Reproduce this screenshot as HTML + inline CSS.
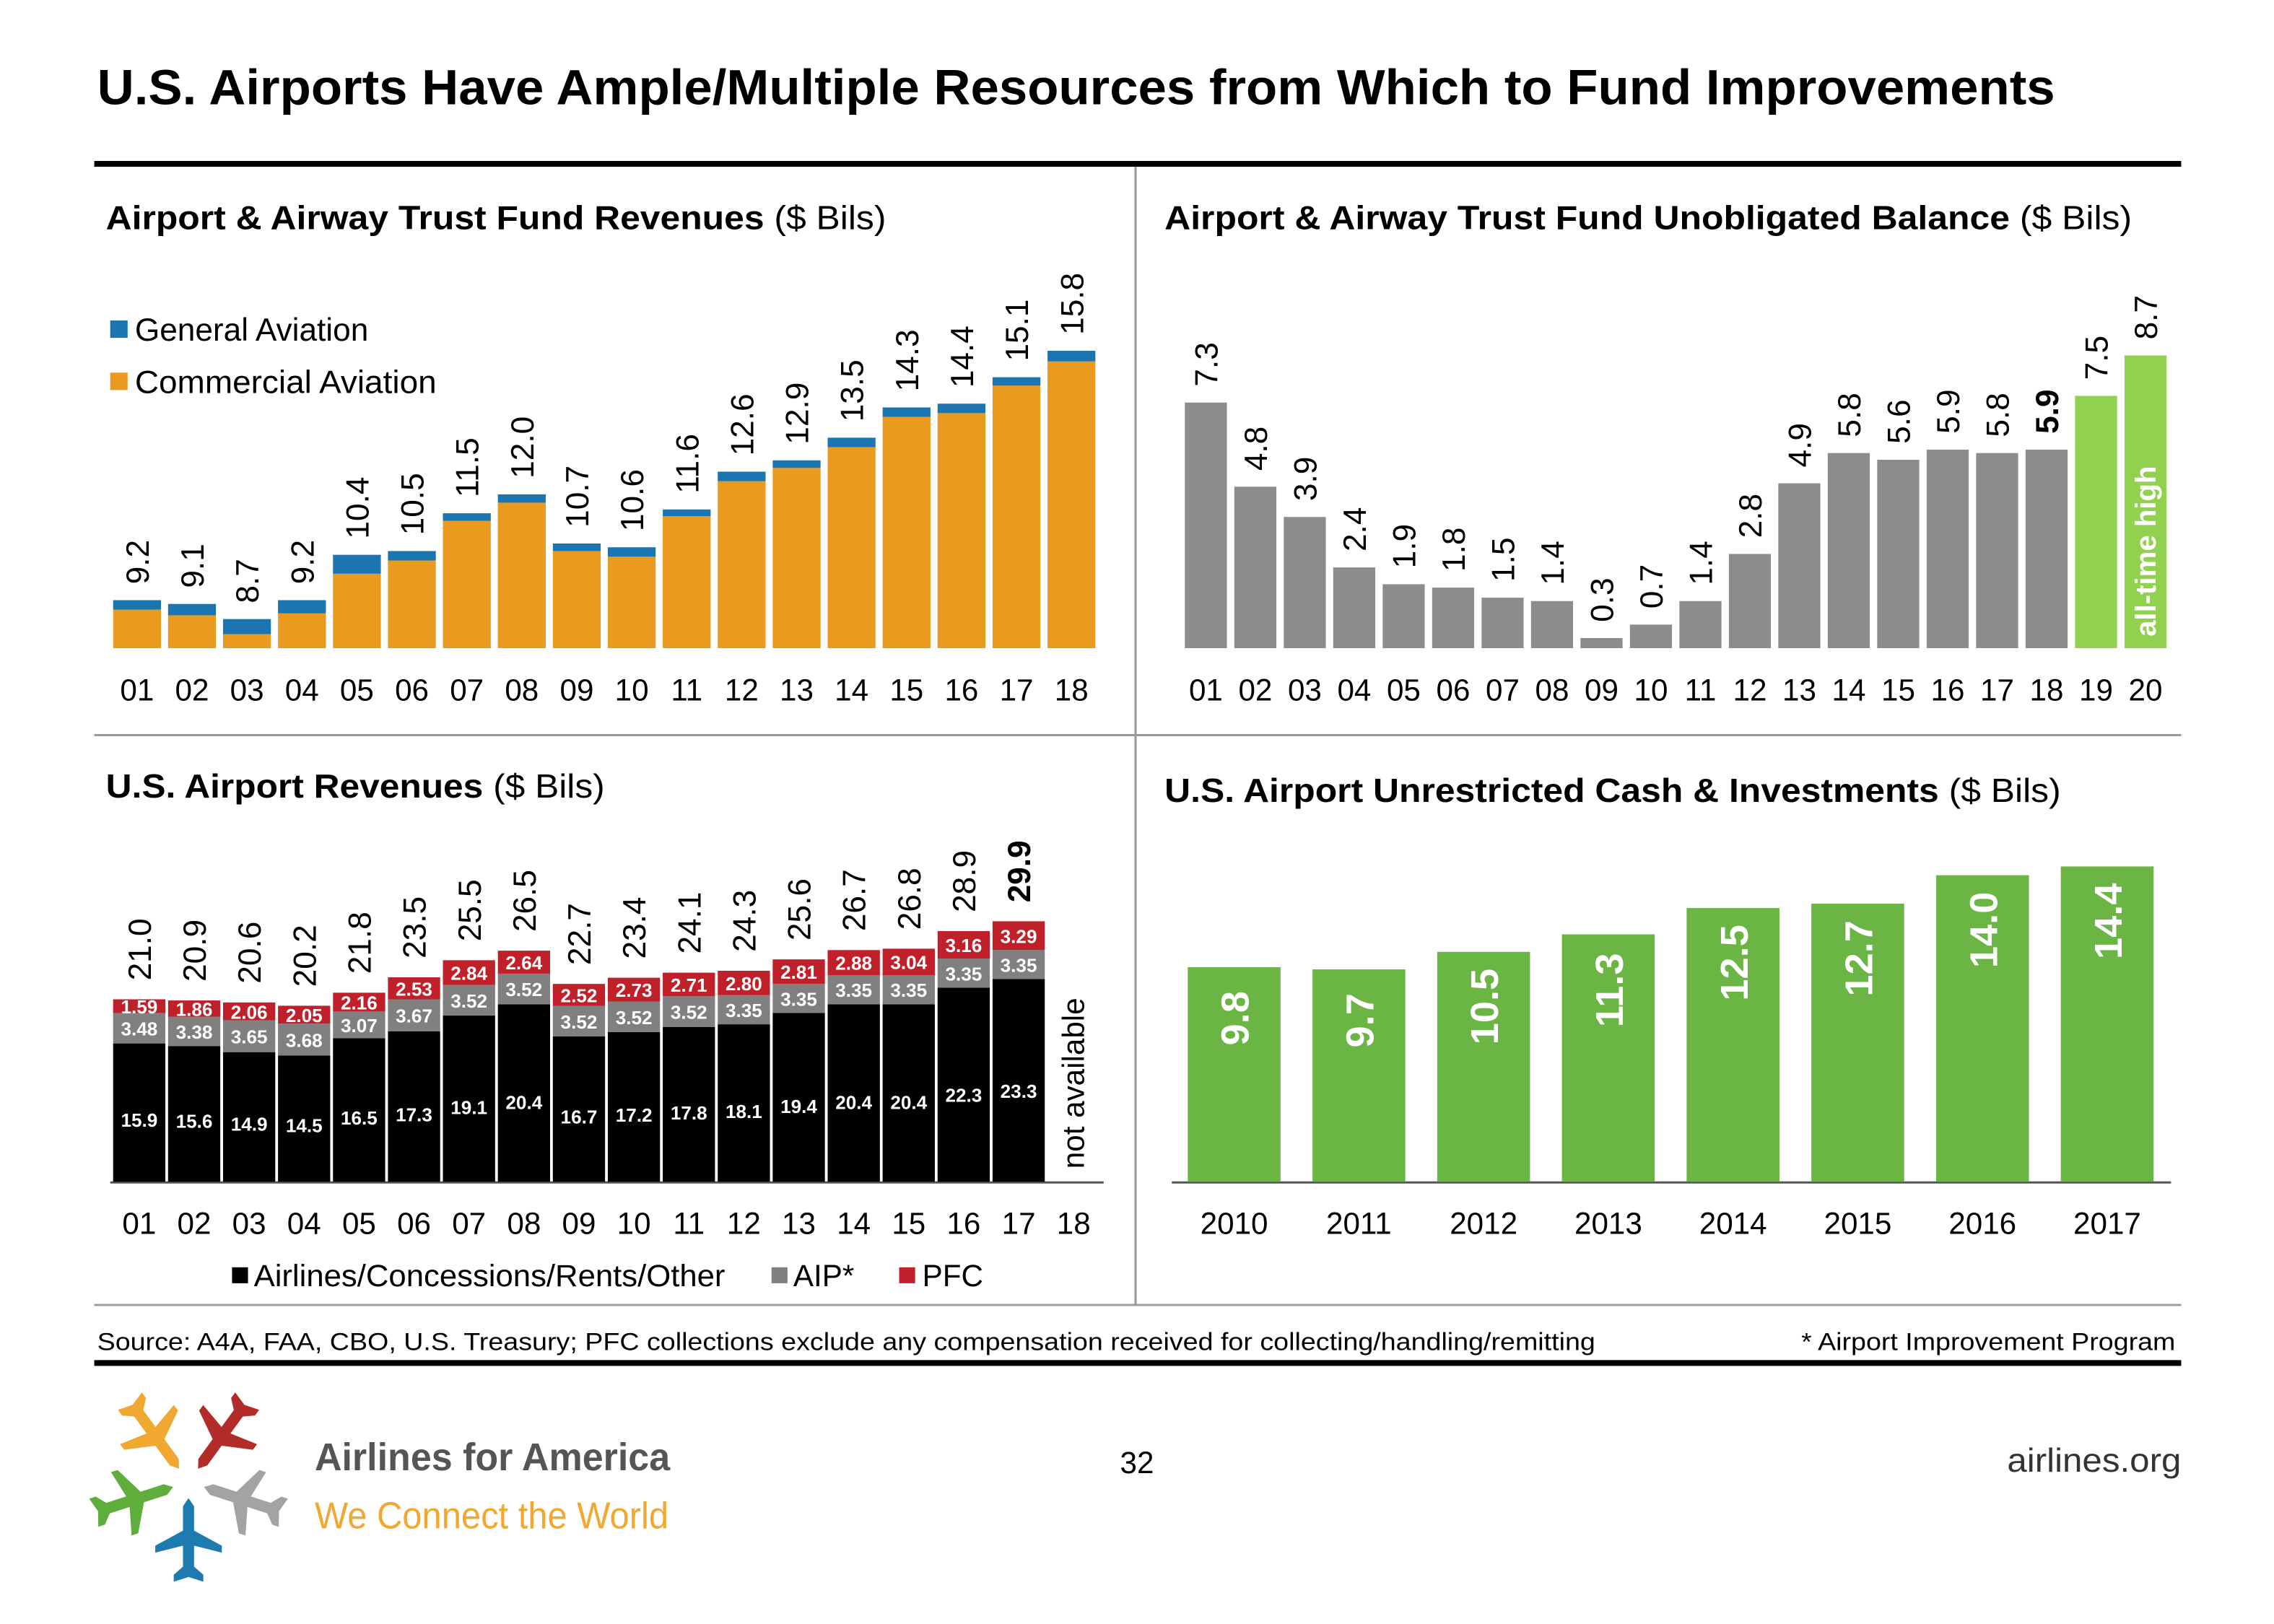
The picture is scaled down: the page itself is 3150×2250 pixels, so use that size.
<!DOCTYPE html>
<html><head><meta charset="utf-8"><style>
html,body{margin:0;padding:0;background:#fff;}
svg{display:block;font-family:"Liberation Sans",Arial,sans-serif;}
</style></head><body>
<svg id="main" xmlns="http://www.w3.org/2000/svg" width="3150" height="2250" viewBox="0 0 1568 1120" preserveAspectRatio="none">
<rect x="0" y="0" width="1568" height="1120" fill="#fff"/>
<text x="67" y="72" font-size="34" font-weight="bold" textLength="1350" lengthAdjust="spacingAndGlyphs">U.S. Airports Have Ample/Multiple Resources from Which to Fund Improvements</text>
<rect x="65" y="111" width="1439" height="4" fill="#000"/>
<line x1="783" y1="115" x2="783" y2="900" stroke="#999" stroke-width="1.5"/>
<line x1="65" y1="507" x2="1504" y2="507" stroke="#999" stroke-width="1.5"/>
<line x1="65" y1="900" x2="1504" y2="900" stroke="#999" stroke-width="1.5"/>
<rect x="65" y="938" width="1439" height="4" fill="#000"/>

<text x="73" y="158" font-size="23" textLength="538" lengthAdjust="spacingAndGlyphs"><tspan font-weight="bold">Airport &amp; Airway Trust Fund Revenues</tspan> ($ Bils)</text>
<text x="803" y="158" font-size="23" textLength="667" lengthAdjust="spacingAndGlyphs"><tspan font-weight="bold">Airport &amp; Airway Trust Fund Unobligated Balance</tspan> ($ Bils)</text>
<text x="73" y="550" font-size="23" textLength="344" lengthAdjust="spacingAndGlyphs"><tspan font-weight="bold">U.S. Airport Revenues</tspan> ($ Bils)</text>
<text x="803" y="553" font-size="23" textLength="618" lengthAdjust="spacingAndGlyphs"><tspan font-weight="bold">U.S. Airport Unrestricted Cash &amp; Investments</tspan> ($ Bils)</text>

<rect x="76" y="221" width="12" height="12" fill="#1A75B0"/>
<text x="93" y="235" font-size="22">General Aviation</text>
<rect x="76" y="257" width="12" height="12" fill="#EA9A1E"/>
<text x="93" y="271" font-size="22" textLength="208" lengthAdjust="spacingAndGlyphs">Commercial Aviation</text>

<rect x="160" y="874" width="11" height="11" fill="#000"/>
<text x="175" y="887" font-size="21" textLength="325" lengthAdjust="spacingAndGlyphs">Airlines/Concessions/Rents/Other</text>
<rect x="532" y="874" width="11" height="11" fill="#808080"/>
<text x="547" y="887" font-size="21">AIP*</text>
<rect x="620" y="874" width="11" height="11" fill="#C0202A"/>
<text x="636" y="887" font-size="21">PFC</text>

<text x="67" y="931" font-size="17" textLength="1033" lengthAdjust="spacingAndGlyphs">Source: A4A, FAA, CBO, U.S. Treasury; PFC collections exclude any compensation received for collecting/handling/remitting</text>
<text x="1500" y="931" font-size="17" text-anchor="end" textLength="258" lengthAdjust="spacingAndGlyphs">* Airport Improvement Program</text>

<g id="logo"></g>
<text x="217" y="1014" font-size="27" font-weight="bold" fill="#555" textLength="245" lengthAdjust="spacingAndGlyphs">Airlines for America</text>
<text x="217" y="1054" font-size="26" fill="#F0A830" textLength="244" lengthAdjust="spacingAndGlyphs">We Connect the World</text>
<text x="784" y="1016" font-size="21" text-anchor="middle">32</text>
<text x="1504" y="1015" font-size="23" text-anchor="end" fill="#333" textLength="120" lengthAdjust="spacingAndGlyphs">airlines.org</text>

<g id="c1"></g><g id="c2"></g><g id="c3"></g><g id="c4"></g>
</svg>
<script>
// Chart 1 data
const c1Years = ["01","02","03","04","05","06","07","08","09","10","11","12","13","14","15","16","17","18"];
const c1Totals = [9.2,9.1,8.7,9.2,10.4,10.5,11.5,12.0,10.7,10.6,11.6,12.6,12.9,13.5,14.3,14.4,15.1,15.8];
const c1GA = [0.25,0.3,0.4,0.35,0.5,0.25,0.2,0.22,0.2,0.25,0.18,0.25,0.2,0.25,0.25,0.25,0.22,0.28];
// Chart 2 data
const c2Years = ["01","02","03","04","05","06","07","08","09","10","11","12","13","14","15","16","17","18","19","20"];
const c2Values = [7.3,4.8,3.9,2.4,1.9,1.8,1.5,1.4,0.3,0.7,1.4,2.8,4.9,5.8,5.6,5.9,5.8,5.9,7.5,8.7];
// Chart 3 data
const c3Years = ["01","02","03","04","05","06","07","08","09","10","11","12","13","14","15","16","17","18"];
const c3Airlines = [15.9,15.6,14.9,14.5,16.5,17.3,19.1,20.4,16.7,17.2,17.8,18.1,19.4,20.4,20.4,22.3,23.3];
const c3AIP = [3.48,3.38,3.65,3.68,3.07,3.67,3.52,3.52,3.52,3.52,3.52,3.35,3.35,3.35,3.35,3.35,3.35];
const c3PFC = [1.59,1.86,2.06,2.05,2.16,2.53,2.84,2.64,2.52,2.73,2.71,2.80,2.81,2.88,3.04,3.16,3.29];
const c3Totals = ["21.0","20.9","20.6","20.2","21.8","23.5","25.5","26.5","22.7","23.4","24.1","24.3","25.6","26.7","26.8","28.9","29.9"];
// Chart 4 data
const c4Years = ["2010","2011","2012","2013","2014","2015","2016","2017"];
const c4Values = [9.8,9.7,10.5,11.3,12.5,12.7,14.0,14.4];

const NS="http://www.w3.org/2000/svg";
function mk(parent,tag,attrs,txt){const e=document.createElementNS(NS,tag);for(const k in attrs)e.setAttribute(k,attrs[k]);if(txt!==undefined)e.textContent=txt;parent.appendChild(e);return e;}
function vtext(p,x,y,s,size,bold,fill){return mk(p,"text",{x:0,y:0,transform:`translate(${x},${y}) rotate(-90)`,"font-size":size,"font-weight":bold?"bold":"normal",fill:fill||"#000"},s);}

// Chart 1
(function(){
  const g=document.getElementById("c1");
  const base=447, x0=78, pitch=37.9, bw=33;
  const y=v=>base-(v-7.93)*26.06;
  const xs=i=>x0+i*pitch;
  c1Totals.forEach((t,i)=>{
    const top=y(t), gaBottom=y(t-c1GA[i]);
    let r=mk(g,"rect",{x:xs(i),y:gaBottom,width:bw,height:base-gaBottom,fill:"#EA9A1E"});
    
    
    r=mk(g,"rect",{x:xs(i),y:top,width:bw,height:gaBottom-top,fill:"#1A75B0"});
    
    
    let t1=vtext(g,xs(i)+bw/2+8,top-11,t.toFixed(1),22,false);
    
    
    let xl=mk(g,"text",{x:xs(i)+bw/2,y:483,"font-size":21,"text-anchor":"middle"},c1Years[i]);
    
    
  });
})();

// Chart 2
(function(){
  const g=document.getElementById("c2");
  const base=447, x0=817, pitch=34.1, bw=29;
  const y=v=>base-v*23.2;
  c2Values.forEach((v,i)=>{
    const x=x0+i*pitch, top=y(v);
    let r=mk(g,"rect",{x:x,y:top,width:bw,height:base-top,fill:i>=18?"#92D050":"#8C8C8E"});
    
    
    let t=vtext(g,x+bw/2+8,top-11,v.toFixed(1),22,i===17);
    
    
    let xl=mk(g,"text",{x:x+bw/2,y:483,"font-size":21,"text-anchor":"middle"},c2Years[i]);
    
    
    if(i===19){
      let a=vtext(g,x+bw/2+7,439,"all-time high",20,true,"#fff");
      
      
    }
  });
})();

// Chart 3
(function(){
  const g=document.getElementById("c3");
  const base=815, x0=78, pitch=37.9, bw=36, k=6.0;
  let ax=mk(g,"line",{x1:76,y1:base+0.5,x2:761,y2:base+0.5,stroke:"#555","stroke-width":1.5});
  
  
  c3Airlines.forEach((a,i)=>{
    const x=x0+i*pitch, cx=x+bw/2;
    const yA=base-a*k, yG=yA-c3AIP[i]*k, yP=yG-c3PFC[i]*k;
    let r=mk(g,"rect",{x:x,y:yA,width:bw,height:base-yA,fill:"#000"});
    
    
    r=mk(g,"rect",{x:x,y:yG,width:bw,height:yA-yG,fill:"#808080"});
    
    
    r=mk(g,"rect",{x:x,y:yP,width:bw,height:yG-yP,fill:"#C0202A"});
    
    
    let t=mk(g,"text",{x:cx,y:base-(base-yA)*0.45+5,"font-size":13,"font-weight":"bold",fill:"#fff","text-anchor":"middle"},a.toFixed(1));
    
    
    t=mk(g,"text",{x:cx,y:(yA+yG)/2+5,"font-size":13,"font-weight":"bold",fill:"#fff","text-anchor":"middle"},c3AIP[i].toFixed(2));
    
    
    t=mk(g,"text",{x:cx,y:(yG+yP)/2+5,"font-size":13,"font-weight":"bold",fill:"#fff","text-anchor":"middle"},c3PFC[i].toFixed(2));
    
    
    t=vtext(g,cx+8,yP-13,c3Totals[i],22,i===16);
    
    
  });
  c3Years.forEach((yr,i)=>{
    let xl=mk(g,"text",{x:x0+i*pitch+bw/2,y:851,"font-size":21,"text-anchor":"middle"},yr);
    
    
  });
  let na=vtext(g,x0+17*pitch+bw/2+7,806,"not available",21,false);
  
  
})();

// Chart 4
(function(){
  const g=document.getElementById("c4");
  const base=815, c0=851, pitch=86, bw=64, k=15.1;
  let ax=mk(g,"line",{x1:808,y1:base+0.5,x2:1497,y2:base+0.5,stroke:"#555","stroke-width":1.5});
  
  
  c4Values.forEach((v,i)=>{
    const cx=c0+i*pitch, top=base-v*k;
    let r=mk(g,"rect",{x:cx-bw/2,y:top,width:bw,height:base-top,fill:"#6BB544"});
    
    
    let t=vtext(g,cx+10,top+(String(v.toFixed(1)).length>3?60:50)+4,v.toFixed(1),27,true,"#fff");
    
    
    let xl=mk(g,"text",{x:cx,y:851,"font-size":21,"text-anchor":"middle"},c4Years[i]);
    
    
  });
})();

// Logo
(function(){
  const g=document.getElementById("logo");
  const d="M0,-36 L4.5,-29 L4.5,-8 L27,5 L27,11 L4.5,5 L4.5,23 L12,30 L12,36 L0,32 L-12,36 L-12,30 L-4.5,23 L-4.5,5 L-27,11 L-27,5 L-4.5,-8 L-4.5,-29 Z";
  const planes=[["blue",90,"#1E7BAF"],["green",162,"#5FAE3C"],["orange",234,"#F0A830"],["red",306,"#B22D2A"],["gray",18,"#A3A3A3"]];
  const cx=130, cy=1022, R=40;
  planes.forEach(p=>{
    const a=p[1]*Math.PI/180;
    const px=cx+R*Math.cos(a), py=cy+R*Math.sin(a);
    let e=mk(g,"path",{d:d,fill:p[2],transform:`translate(${px.toFixed(1)},${py.toFixed(1)}) rotate(${p[1]-90}) scale(0.85,0.8)`});
    
    
  });
})();
</script>
</body></html>
